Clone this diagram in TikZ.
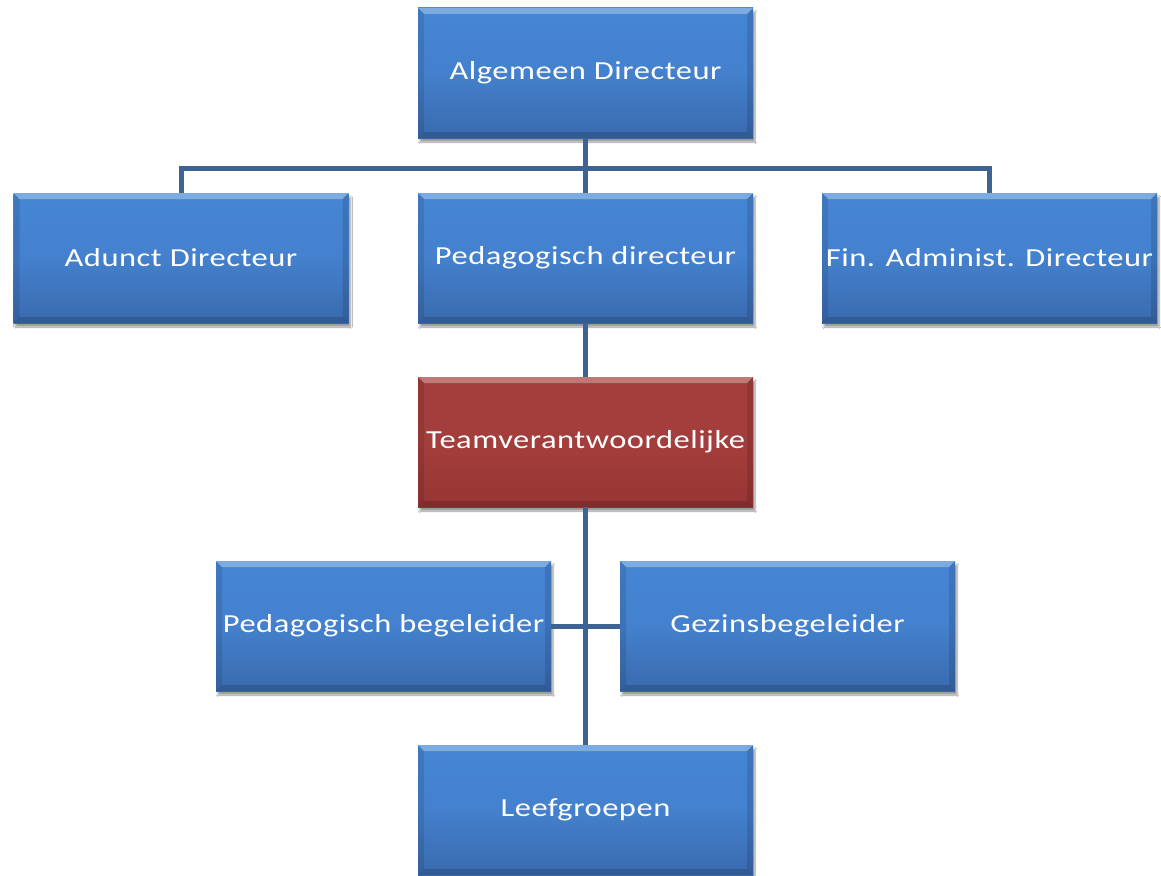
\documentclass[tikz,border=0pt]{standalone}
\usepackage{fontspec}
\setmainfont{Carlito}
\newfontfamily\boxfont[FakeStretch=1.25,LetterSpace=2]{Carlito}
\usetikzlibrary{shadows,shadows.blur}
\definecolor{bxtop}{HTML}{4686D5}
\definecolor{bxbot}{HTML}{3A6AAE}
\definecolor{rdtop}{HTML}{A43E3C}
\definecolor{rdbot}{HTML}{963634}
\definecolor{lnc}{HTML}{3D6393}
\tikzset{
  bevel/.style={path picture={
    \fill[white,opacity=0.3] (path picture bounding box.north west) -- (path picture bounding box.north east) -- ([xshift=-6pt,yshift=-6pt]path picture bounding box.north east) -- ([xshift=6pt,yshift=-6pt]path picture bounding box.north west) -- cycle;
    \fill[black,opacity=0.1] (path picture bounding box.north west) -- ([xshift=6pt,yshift=-6pt]path picture bounding box.north west) -- ([xshift=6pt,yshift=6pt]path picture bounding box.south west) -- (path picture bounding box.south west) -- cycle;
    \fill[black,opacity=0.12] (path picture bounding box.north east) -- ([xshift=-6pt,yshift=-6pt]path picture bounding box.north east) -- ([xshift=-6pt,yshift=6pt]path picture bounding box.south east) -- (path picture bounding box.south east) -- cycle;
    \fill[black,opacity=0.15] (path picture bounding box.south west) -- ([xshift=6pt,yshift=6pt]path picture bounding box.south west) -- ([xshift=-6pt,yshift=6pt]path picture bounding box.south east) -- (path picture bounding box.south east) -- cycle;
  }},
  orgbox/.style={rectangle, minimum width=335pt, minimum height=130pt, inner sep=0pt,
    top color=bxtop, bottom color=bxbot, middle color=bxtop!80!bxbot, bevel,
    blur shadow={shadow xshift=2pt, shadow yshift=-4pt, shadow blur steps=6, shadow opacity=40},
    text=white, font=\boxfont\fontsize{26}{30}\selectfont},
  redbox/.style={orgbox, top color=rdtop, bottom color=rdbot, middle color=rdtop},
  conn/.style={draw=lnc, line width=5pt}
}
\begin{document}
\begin{tikzpicture}[x=1pt,y=-1pt]
\useasboundingbox (0,0) rectangle (1161,875);
\fill[white] (0,0) rectangle (1161,875);
\node[orgbox] (A) at (585.5,73) {Algemeen Directeur};
\node[orgbox] (B) at (181,258) {Adunct Directeur};
\node[orgbox] (C) at (585.5,258) {Pedagogisch directeur};
\node[orgbox] (D) at (989.5,258) {Fin. Administ. Directeur};
\node[redbox] (T) at (585.5,442) {Teamverantwoordelijke};
\node[orgbox] (P) at (383.5,626) {Pedagogisch begeleider};
\node[orgbox] (G) at (787.5,626) {Gezinsbegeleider};
\node[orgbox] (L) at (585.5,810) {Leefgroepen};
\coordinate (J) at (585.5,168);
\draw[conn] (A.south) -- (C.north);
\draw[conn] (B.north) |- (J) -| (D.north);
\draw[conn] (C.south) -- (T.north);
\draw[conn] (T.south) -- (L.north);
\draw[conn] (P.east) -- (G.west);
\end{tikzpicture}
\end{document}
